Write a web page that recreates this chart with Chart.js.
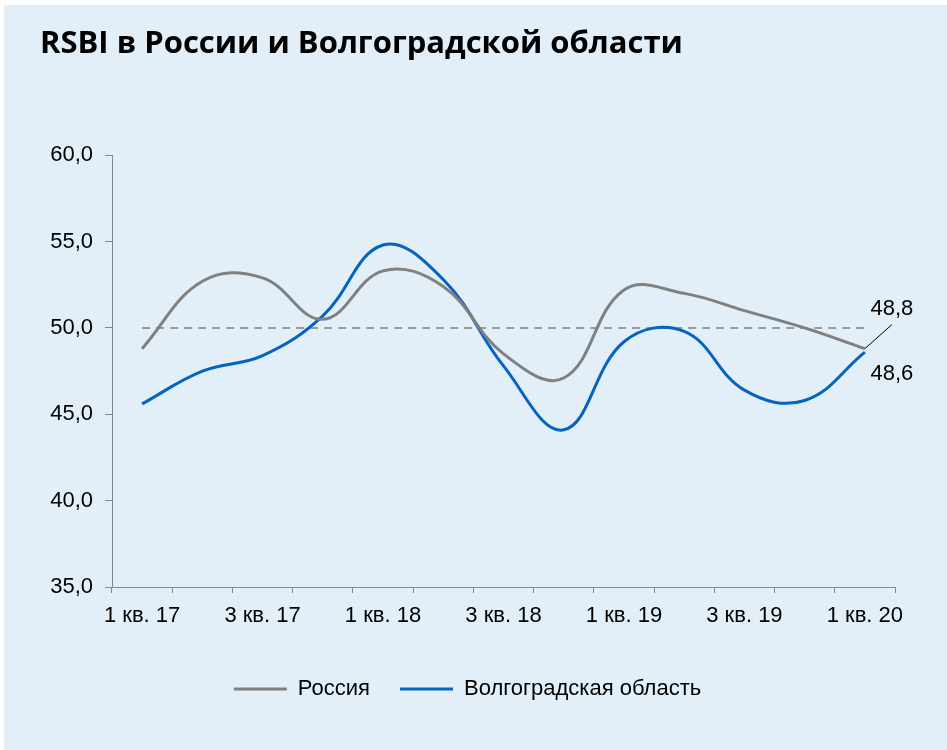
<!DOCTYPE html>
<html lang="ru">
<head>
<meta charset="utf-8">
<title>RSBI</title>
<script src="https://cdn.jsdelivr.net/npm/chart.js@4/dist/chart.umd.min.js"></script>
<style>
	html, body {
		margin: 0;
		padding: 0;
		background: #ffffff;
	}
	.panel {
		position: absolute;
		left: 4px;
		top: 5px;
		width: 943px;
		height: 745px;
		background: #e2eff8;
	}
</style>
</head>
<body>
<div class="panel">
	<canvas id="chart" width="943" height="745"></canvas>
</div>
<script>
// quarters on the x axis
const quarters = [
	"1 кв. 17", "2 кв. 17", "3 кв. 17", "4 кв. 17",
	"1 кв. 18", "2 кв. 18", "3 кв. 18", "4 кв. 18",
	"1 кв. 19", "2 кв. 19", "3 кв. 19", "4 кв. 19",
	"1 кв. 20",
];

// RSBI index values
const russia = [48.8, 52.7, 52.9, 50.5, 53.3, 52.4, 48.5, 47.1, 52.2, 52.0, 51.0, 50.0, 48.8];
const volgograd = [45.6, 47.5, 48.4, 50.7, 54.8, 52.8, 47.8, 44.1, 49.2, 49.8, 46.4, 45.8, 48.6];

// the 50 line separating growth from decline
const threshold = quarters.map(() => 50);

const grey = "#808080";
const blue = "#0563c1";
const axisColor = "#868686";
const labelFont = { family: "'Liberation Sans', Arial, sans-serif", size: 22 };

const fmt = (v) => v.toFixed(1).replace(".", ",");

// final value labels for both lines, with a short leader for the upper one
const endLabels = {
	id: "endLabels",
	afterDatasetsDraw(chart) {
		const ctx = chart.ctx;
		const ru = chart.getDatasetMeta(0).data;
		const vo = chart.getDatasetMeta(1).data;
		const pRu = ru[ru.length - 1];
		const pVo = vo[vo.length - 1];
		ctx.save();
		ctx.strokeStyle = "#000";
		ctx.lineWidth = 1;
		ctx.beginPath();
		ctx.moveTo(pRu.x, pRu.y);
		ctx.lineTo(pRu.x + 27, pRu.y - 24);
		ctx.stroke();
		ctx.fillStyle = "#000";
		ctx.font = `${labelFont.size}px ${labelFont.family}`;
		ctx.textAlign = "center";
		ctx.textBaseline = "middle";
		ctx.fillText(fmt(russia[russia.length - 1]), pRu.x + 27, pRu.y - 40);
		ctx.fillText(fmt(volgograd[volgograd.length - 1]), pVo.x + 27, pVo.y + 22);
		ctx.restore();
	},
};

new Chart(document.getElementById("chart"), {
	type: "line",
	data: {
		labels: quarters,
		datasets: [
			{
				label: "Россия",
				data: russia,
				borderColor: grey,
				backgroundColor: grey,
				borderWidth: 3,
				pointRadius: 0,
				tension: 0.4,
			},
			{
				label: "Волгоградская область",
				data: volgograd,
				borderColor: blue,
				backgroundColor: blue,
				borderWidth: 3,
				pointRadius: 0,
				tension: 0.4,
			},
			{
				label: "50",
				data: threshold,
				borderColor: grey,
				borderWidth: 1.5,
				borderDash: [8, 6],
				pointRadius: 0,
			},
		],
	},
	options: {
		responsive: false,
		animation: false,
		layout: { padding: { left: 36, right: 52, top: 0, bottom: 40 } },
		plugins: {
			title: {
				display: true,
				text: "RSBI в России и Волгоградской области",
				align: "start",
				color: "#000",
				font: { family: "'Open Sans', sans-serif", size: 31, weight: "bold" },
				padding: { top: 21, bottom: 92 },
			},
			legend: {
				position: "bottom",
				labels: {
					filter: (item) => item.datasetIndex < 2,
					usePointStyle: true,
					pointStyle: "line",
					pointStyleWidth: 53,
					color: "#000",
					font: labelFont,
					padding: 30,
				},
			},
			tooltip: { enabled: false },
		},
		scales: {
			x: {
				offset: true,
				afterFit: (scale) => {
					scale.height = 61;
				},
				grid: {
					offset: true,
					drawOnChartArea: false,
					color: axisColor,
					tickLength: 6,
				},
				border: { color: axisColor },
				ticks: {
					autoSkip: false,
					maxRotation: 0,
					color: "#000",
					font: labelFont,
					padding: 10,
					callback: (v, i) => (i % 2 === 0 ? quarters[i] : ""),
				},
			},
			y: {
				min: 35,
				max: 60,
				afterFit: (scale) => {
					scale.width = 72;
				},
				grid: {
					drawOnChartArea: false,
					color: axisColor,
					tickLength: 7,
				},
				border: { color: axisColor },
				ticks: {
					stepSize: 5,
					color: "#000",
					font: labelFont,
					padding: 12,
					callback: (v) => fmt(v),
				},
			},
		},
	},
	plugins: [endLabels],
});
</script>
</body>
</html>
